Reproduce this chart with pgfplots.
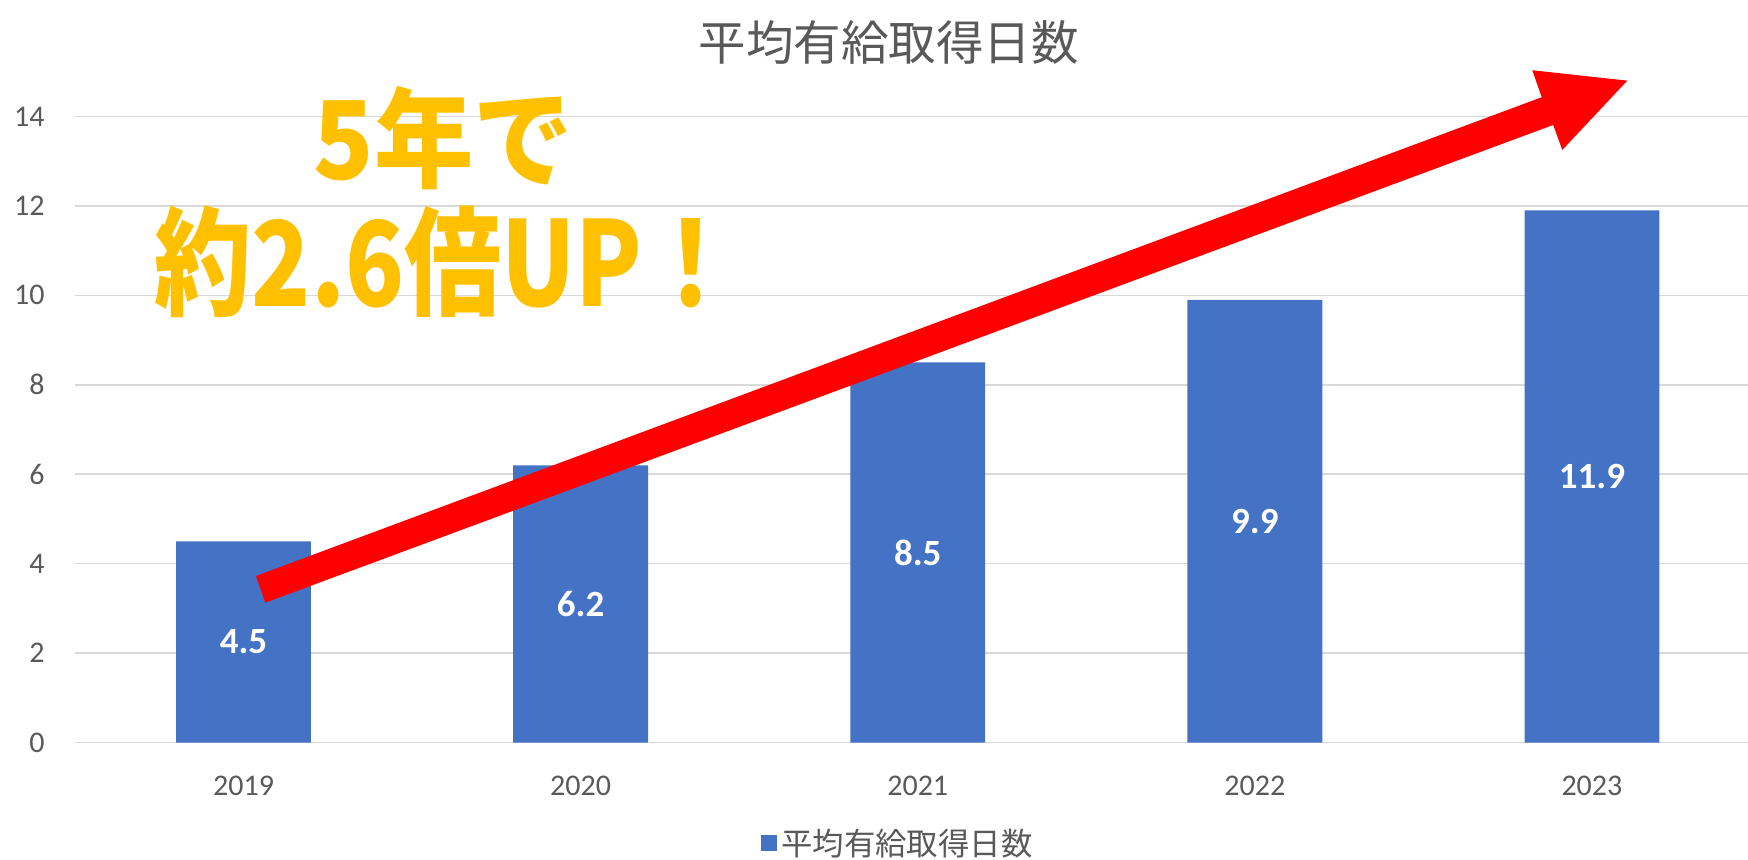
\documentclass[border=0pt]{standalone}
\usepackage{pgfplots}
\pgfplotsset{compat=1.18}
\usepackage{fontspec}
\setmainfont{Carlito}
\newfontfamily\cjk{Noto Sans CJK JP}
\definecolor{barblue}{HTML}{4472C4}
\definecolor{txtgray}{HTML}{595959}
\definecolor{gridgray}{HTML}{D9D9D9}
\definecolor{popyellow}{HTML}{FFC000}
\begin{document}
\begin{tikzpicture}
\useasboundingbox (-37.5pt,-58.25pt) rectangle (836.5pt,371.25pt);
\begin{axis}[
  at={(0pt,0pt)}, anchor=south west,
  scale only axis,
  width=836.5pt, height=313pt,
  xmin=-0.5, xmax=4.463,
  ymin=0, ymax=14,
  ytick={0,2,...,14},
  xtick={0,1,2,3,4},
  xticklabels={2019,2020,2021,2022,2023},
  axis line style={draw=none},
  ymajorgrids, grid style={gridgray, line width=0.8pt},
  major tick length=0pt,
  tick label style={font=\fontsize{15}{18}\selectfont, text=txtgray},
  /pgf/number format/assume math mode=true,
  yticklabel style={anchor=east, inner sep=0pt, xshift=-15pt},
  xticklabel style={anchor=center, inner sep=0pt, yshift=-21.75pt},
  clip=false,
  legend style={at={(0.4925,-0.161)}, anchor=center, draw=none, fill=none,
    inner sep=1pt, font=\cjk\fontsize{15.7}{18}\selectfont, text=txtgray},
]
\addplot[ybar, bar width=0.4, fill=barblue, draw=none,
  legend image code/.code={\fill[barblue] (0pt,-4pt) rectangle (8pt,4pt);},
  visualization depends on=y \as \rawy,
  nodes near coords,
  every node near coord/.append style={shift={(axis direction cs:0,-\rawy/2)}, anchor=center,
    font=\bfseries\fontsize{18.5}{20}\selectfont, text=white},
  ] coordinates {(0,4.5) (1,6.2) (2,8.5) (3,9.9) (4,11.9)};
\addlegendentry{平均有給取得日数}
\addplot[fill=red, draw=none, forget plot] coordinates {
  (0.0369,3.724) (3.851,14.431) (3.823,15.035) (4.105,14.802)
  (3.912,13.252) (3.885,13.811) (0.0645,3.127)} -- cycle;
\end{axis}
\node[font=\cjk\fontsize{23.75}{26}\selectfont, text=txtgray] at (406.75pt,350.05pt) {平均有給取得日数};
\node[font=\cjk\bfseries\fontsize{46}{46}\selectfont, text=popyellow] at (184.3pt,302.2pt) {\scalebox{1.08}[1.18]{5年で}};
\node[font=\cjk\bfseries\fontsize{46}{46}\selectfont, text=popyellow] at (186pt,240.6pt) {\scalebox{1.055}[1.28]{約2.6倍UP！}};
\end{tikzpicture}
\end{document}
